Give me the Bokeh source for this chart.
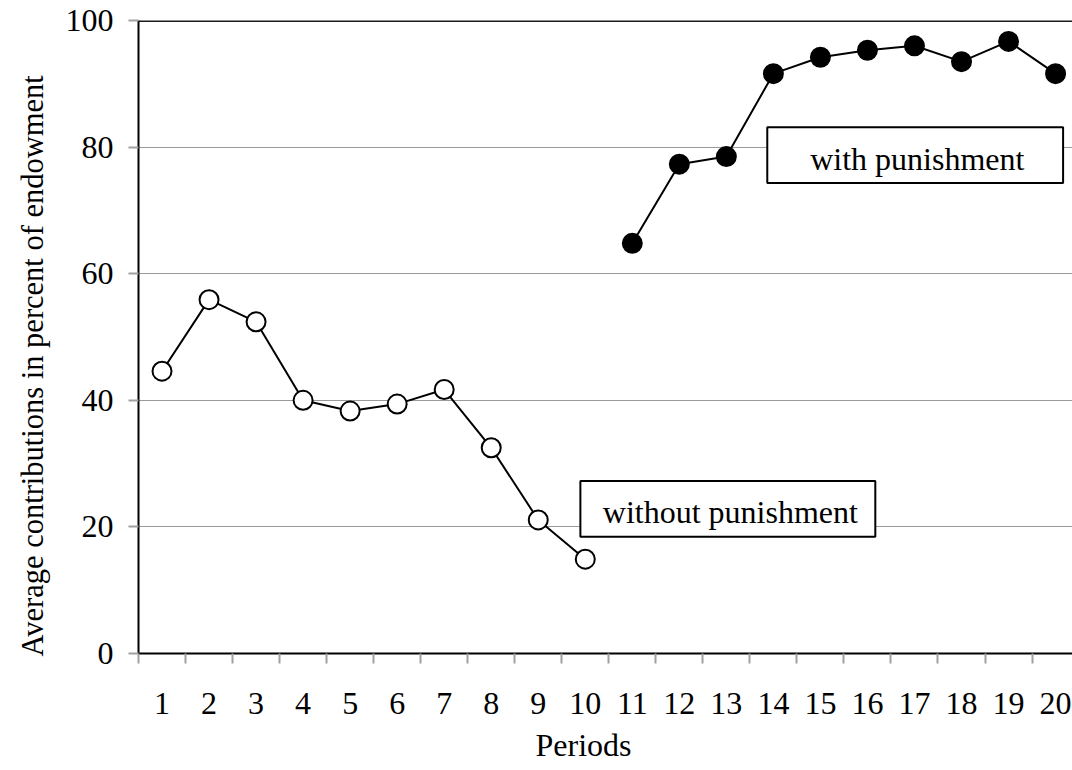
from bokeh.plotting import figure
from bokeh.models import Range1d, FixedTicker, Span, BoxAnnotation, Label, Title
from bokeh.embed import file_html
from bokeh.resources import INLINE

# ---- data ----
periods_without = [1, 2, 3, 4, 5, 6, 7, 8, 9, 10]
without_punishment = [44.6, 55.9, 52.4, 40.0, 38.3, 39.4, 41.7, 32.5, 21.1, 14.9]
periods_with = [11, 12, 13, 14, 15, 16, 17, 18, 19, 20]
with_punishment = [64.8, 77.3, 78.5, 91.6, 94.2, 95.3, 96.0, 93.5, 96.7, 91.6]
period_ticks = list(range(1, 21))
period_labels = [str(i) for i in period_ticks]
y_ticks = [0, 20, 40, 60, 80, 100]
grid_ticks = [20, 40, 60, 80]
x_title = "Periods"
y_title = "Average contributions in percent of endowment"
label_without = "without punishment"
label_with = "with punishment"

FONT = "Liberation Serif"
FS = "32px"

p = figure(width=1072, height=770, output_backend="svg", toolbar_location=None,
           x_range=Range1d(0.5, 20.36), y_range=Range1d(0, 100),
           min_border_left=138, min_border_right=0, min_border_top=20,
           min_border_bottom=115)
p.outline_line_color = None
p.background_fill_color = "white"
p.border_fill_color = "white"

# x axis: labels at category centres, tick marks at boundaries
xa = p.xaxis[0]
xa.ticker = FixedTicker(ticks=period_ticks, minor_ticks=[t - 0.5 for t in period_ticks])
xa.major_label_overrides = {t: l for t, l in zip(period_ticks, period_labels)}
xa.major_tick_out = 0
xa.major_tick_in = 0
xa.minor_tick_out = 10
xa.minor_tick_in = 0
xa.minor_tick_line_color = "#a0a0a0"
xa.minor_tick_line_width = 2
xa.axis_line_color = "black"
xa.axis_line_width = 2
xa.major_label_text_font = FONT
xa.major_label_text_font_size = FS
xa.major_label_text_color = "black"
xa.major_label_standoff = 29

ya = p.yaxis[0]
ya.ticker = FixedTicker(ticks=y_ticks)
ya.major_tick_out = 10
ya.major_tick_in = 0
ya.major_tick_line_color = "#a0a0a0"
ya.major_tick_line_width = 2
ya.minor_tick_line_color = None
ya.axis_line_color = "black"
ya.axis_line_width = 2
ya.major_label_text_font = FONT
ya.major_label_text_font_size = FS
ya.major_label_text_color = "black"
ya.major_label_standoff = 15

p.xgrid.visible = False
p.ygrid.ticker = FixedTicker(ticks=grid_ticks)
p.ygrid.grid_line_color = "#9a9a9a"
p.ygrid.grid_line_width = 1

p.add_layout(Span(location=100, dimension="width", line_color="#1a1a1a", line_width=3))

# series
p.line(periods_without, without_punishment, line_color="black", line_width=2)
p.scatter(periods_without, without_punishment, size=19, fill_color="white",
          line_color="black", line_width=2)
p.line(periods_with, with_punishment, line_color="black", line_width=2)
p.scatter(periods_with, with_punishment, size=19, fill_color="black",
          line_color="black", line_width=2)

# annotation boxes
p.add_layout(BoxAnnotation(left=9.896, right=16.167, bottom=18.43, top=27.24,
                           fill_color="white", fill_alpha=1.0,
                           line_color="black", line_width=2, line_alpha=1.0))
p.add_layout(BoxAnnotation(left=13.87, right=20.16, bottom=74.33, top=83.15,
                           fill_color="white", fill_alpha=1.0,
                           line_color="black", line_width=2, line_alpha=1.0))
p.add_layout(Label(x=13.085, y=22.36, text=label_without, text_font=FONT,
                   text_font_size=FS, text_align="center", text_baseline="alphabetic",
                   text_color="black"))
p.add_layout(Label(x=17.06, y=78.1, text=label_with, text_font=FONT,
                   text_font_size=FS, text_align="center", text_baseline="alphabetic",
                   text_color="black"))

# axis titles
p.add_layout(Title(text=x_title, align="left", offset=397, text_font=FONT,
                   text_font_size=FS, text_font_style="normal", text_color="black",
                   standoff=16), "below")
p.add_layout(Title(text=y_title, align="left", offset=-3, text_font=FONT,
                   text_font_size="30.5px", text_font_style="normal", text_color="black",
                   standoff=25), "left")

open("out.html", "w").write(file_html(p, INLINE))
